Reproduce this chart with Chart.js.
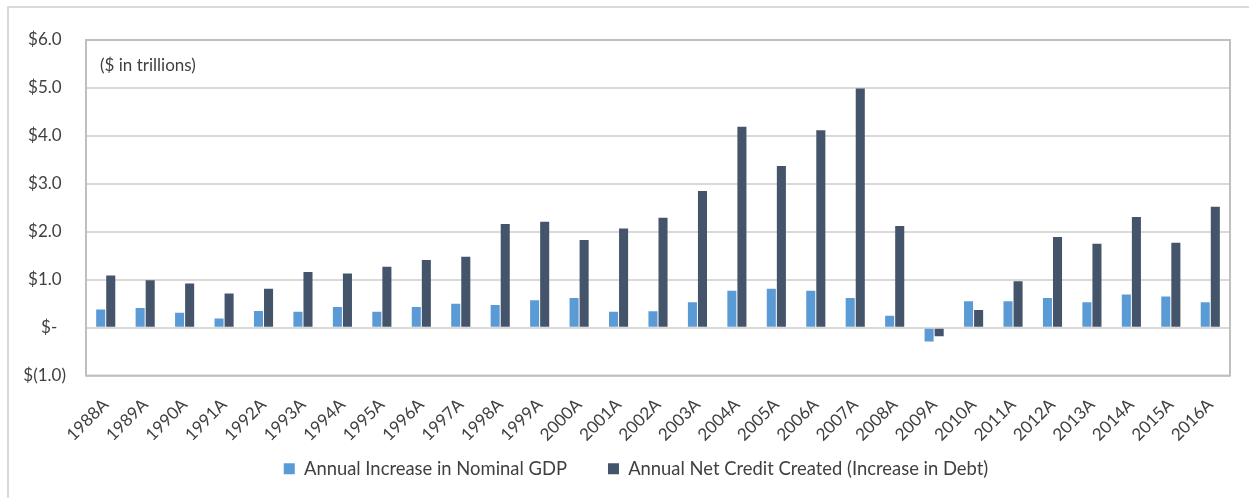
<!DOCTYPE html>
<html>
<head>
<meta charset="utf-8">
<script src="https://cdn.jsdelivr.net/npm/chart.js@4"></script>
<style>
  html, body { margin: 0; padding: 0; background: #fff; }
  #wrap { position: relative; width: 1249px; height: 498px; overflow: hidden; }
  #frame { position: absolute; left: 7px; top: 6px; width: 1260px; height: 520px;
           border-left: 2px solid #d9d9d9; border-top: 2px solid #d9d9d9; box-sizing: border-box; }
  canvas { position: absolute; left: 0; top: 0; }
</style>
</head>
<body>
<div id="wrap">
  <div id="frame"></div>
  <canvas id="debt-chart" width="1249" height="498"></canvas>
</div>
<script>
const years = ["1988A", "1989A", "1990A", "1991A", "1992A", "1993A", "1994A", "1995A", "1996A", "1997A",
    "1998A", "1999A", "2000A", "2001A", "2002A", "2003A", "2004A", "2005A", "2006A", "2007A",
    "2008A", "2009A", "2010A", "2011A", "2012A", "2013A", "2014A", "2015A", "2016A"];
const gdpIncrease = [0.38, 0.41, 0.31, 0.19, 0.35, 0.33, 0.43, 0.33, 0.43, 0.50,
    0.47, 0.57, 0.62, 0.33, 0.34, 0.53, 0.77, 0.81, 0.77, 0.62,
    0.25, -0.29, 0.55, 0.55, 0.62, 0.53, 0.69, 0.65, 0.53];
const creditCreated = [1.09, 0.99, 0.92, 0.71, 0.81, 1.16, 1.13, 1.27, 1.41, 1.48,
    2.16, 2.21, 1.83, 2.07, 2.29, 2.85, 4.19, 3.37, 4.12, 4.99,
    2.12, -0.18, 0.37, 0.97, 1.89, 1.75, 2.31, 1.77, 2.52];
const seriesNames = ["Annual Increase in Nominal GDP", "Annual Net Credit Created (Increase in Debt)"];
const unitNote = "($ in trillions)";

const textColor = "#404040";
const fontFamily = "Lato, 'Open Sans', sans-serif";

const dollarTick = (v) => {
    if (v === 0) return "$-  ";
    if (v < 0) return "$(" + Math.abs(v).toFixed(1) + ")";
    return "$" + v.toFixed(1) + " ";
};

// plot frame + unit note inside the plot area
const framePlugin = {
    id: "frame",
    afterLayout(chart) {
        // tick labels overhang their (narrow/short) boxes, so widen the clip areas
        chart.scales.x.bottom = chart.height;
        chart.scales.y.left = 0;
    },
    afterDraw(chart) {
        const { ctx, chartArea: a } = chart;
        ctx.save();
        ctx.strokeStyle = "#bfbfbf";
        ctx.lineWidth = 2;
        ctx.strokeRect(a.left, a.top, a.right - a.left, a.bottom - a.top);
        ctx.fillStyle = textColor;
        ctx.font = "17px " + fontFamily;
        ctx.textBaseline = "middle";
        ctx.fillText(unitNote, a.left + 14, a.top + 26);
        ctx.restore();
    }
};

new Chart(document.getElementById("debt-chart"), {
    type: "bar",
    data: {
        labels: years,
        datasets: [{
            label: seriesNames[0],
            data: gdpIncrease,
            backgroundColor: "#5b9bd5",
            barPercentage: 0.9,
            categoryPercentage: 0.51
        }, {
            label: seriesNames[1],
            data: creditCreated,
            backgroundColor: "#44546a",
            barPercentage: 0.9,
            categoryPercentage: 0.51
        }]
    },
    options: {
        responsive: false,
        animation: false,
        layout: { padding: { top: 40, left: 42, right: 19, bottom: 10 } },
        plugins: {
            tooltip: { enabled: false },
            legend: {
                position: "bottom",
                labels: {
                    color: textColor,
                    font: { family: fontFamily, size: 18.4 },
                    boxWidth: 11,
                    boxHeight: 11,
                    padding: 41
                }
            }
        },
        scales: {
            x: {
                grid: { display: false },
                border: { display: false },
                ticks: {
                    color: textColor,
                    font: { family: fontFamily, size: 17 },
                    maxRotation: 45,
                    minRotation: 45,
                    padding: 11
                },
                afterFit: (scale) => { scale.height = 43; }
            },
            y: {
                min: -1,
                max: 6,
                grid: { color: "#d9d9d9", lineWidth: 2, drawTicks: false },
                border: { display: false },
                ticks: {
                    stepSize: 1,
                    color: textColor,
                    font: { family: fontFamily, size: 17 },
                    padding: 20,
                    callback: dollarTick
                },
                afterFit: (scale) => { scale.width = 44; }
            }
        }
    },
    plugins: [framePlugin]
});
</script>
</body>
</html>
